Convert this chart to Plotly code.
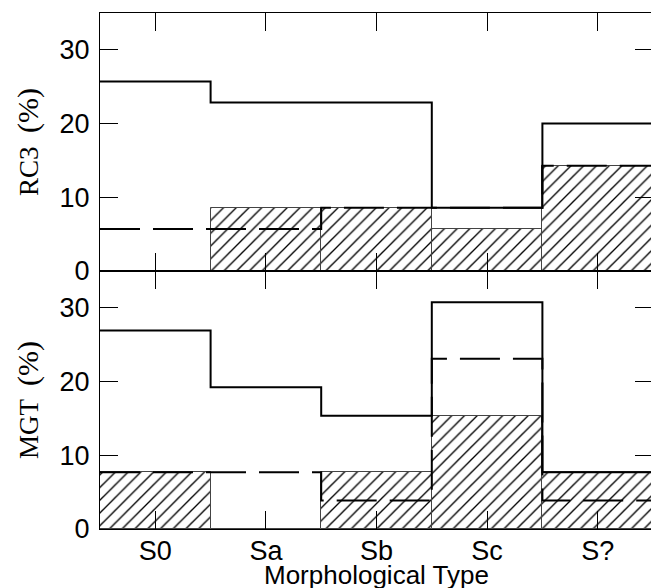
import plotly.graph_objects as go
from plotly.subplots import make_subplots

categories = ["S0", "Sa", "Sb", "Sc", "S?"]

# RC3 panel (%)
rc3_solid = [25.71, 22.86, 22.86, 8.57, 20.00]
rc3_dashed = [5.71, 5.71, 8.57, 8.57, 14.29]
rc3_hatched = [0.0, 8.57, 8.57, 5.71, 14.29]

# MGT panel (%)
mgt_solid = [26.92, 19.23, 15.38, 30.77, 7.69]
mgt_dashed = [7.69, 7.69, 3.85, 23.08, 3.85]
mgt_hatched = [7.69, 0.0, 7.69, 15.38, 7.69]

yticks = [0, 10, 20, 30]

xpos = list(range(len(categories)))
edges = [i - 0.5 for i in range(len(categories) + 1)]

fig = make_subplots(rows=2, cols=1, shared_xaxes=True, vertical_spacing=0)


def add_panel(row, solid, dashed, hatched):
    fig.add_trace(go.Bar(
        x=xpos, y=hatched, width=1.0,
        marker=dict(color="white",
                    pattern=dict(shape="/", fgcolor="black", bgcolor="white",
                                 fgopacity=1, size=9, solidity=0.15),
                    line=dict(color="#444444", width=1)),
        showlegend=False, hoverinfo="skip"), row=row, col=1)
    fig.add_trace(go.Scatter(
        x=edges, y=dashed + [dashed[-1]], mode="lines",
        line=dict(shape="hv", color="black", width=2, dash="40px,13px"),
        showlegend=False, hoverinfo="skip"), row=row, col=1)
    fig.add_trace(go.Scatter(
        x=edges, y=solid + [solid[-1]], mode="lines",
        line=dict(shape="hv", color="black", width=2),
        showlegend=False, hoverinfo="skip"), row=row, col=1)


add_panel(1, rc3_solid, rc3_dashed, rc3_hatched)
add_panel(2, mgt_solid, mgt_dashed, mgt_hatched)

axis_common = dict(showline=True, linecolor="black", linewidth=1.3, mirror="ticks",
                   ticks="inside", ticklen=18, tickwidth=1, tickcolor="black",
                   showgrid=False, zeroline=False, automargin=False,
                   tickfont=dict(family="Liberation Sans", size=27, color="black"))

for r in (1, 2):
    fig.update_xaxes(range=[-0.5, 4.5], tickvals=xpos, ticktext=categories,
                     row=r, col=1, **axis_common)
    fig.update_yaxes(range=[0, 35], tickvals=yticks, row=r, col=1,
                     ticklabelstandoff=4, **axis_common)

fig.update_xaxes(showticklabels=False, row=1, col=1)
fig.update_xaxes(showticklabels=True, ticklabelstandoff=-3, row=2, col=1)

# page body has an 8px default margin; figure is sized to fit the 659x588 window
W, H = 651, 580
ml, mr, mt, mb = 92, 6, 5, 59
plot_w = W - ml - mr
plot_h = H - mt - mb
serif = dict(family="Liberation Serif", size=27, color="black")
sans = dict(family="Liberation Sans", size=26, color="black")
pct = "<span style='font-size:30px'>(%)</span>"

fig.update_layout(
    width=W, height=H, margin=dict(l=ml, r=mr, t=mt, b=mb),
    plot_bgcolor="white", paper_bgcolor="white", bargap=0,
    annotations=[
        dict(text="RC3  " + pct, textangle=-90, font=serif, showarrow=False,
             xref="paper", yref="y domain", x=(28 - 100) / plot_w, y=0.5,
             xanchor="center", yanchor="middle"),
        dict(text="MGT  " + pct, textangle=-90, font=serif, showarrow=False,
             xref="paper", yref="y2 domain", x=(28 - 100) / plot_w, y=0.5,
             xanchor="center", yanchor="middle"),
        dict(text="Morphological Type", font=sans, showarrow=False,
             xref="paper", yref="paper", x=0.5, y=(529 - 575) / plot_h,
             xanchor="center", yanchor="middle"),
    ],
)

fig.write_html("out.html")
